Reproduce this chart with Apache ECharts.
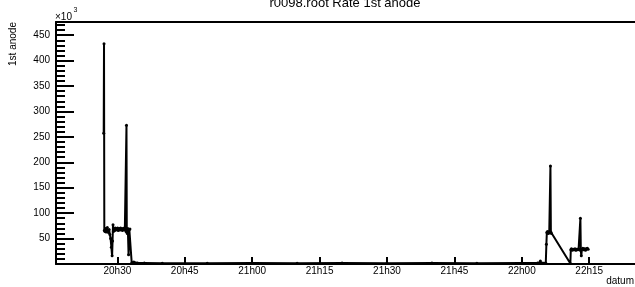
<!DOCTYPE html>
<html>
<head>
<meta charset="utf-8">
<script src="https://cdn.jsdelivr.net/npm/echarts@6/dist/echarts.min.js"></script>
<style>
html,body{margin:0;padding:0;background:#fff;}
#c{width:635px;height:287px;}
</style>
</head>
<body>
<div id="c"></div>
<script>
// time stamps (hh:mm:ss) and rates (x10^3)
const times = [
"20:26:58","20:27:02","20:27:06","20:27:14","20:27:22","20:27:30","20:27:38","20:27:46","20:27:54","20:28:02",
"20:28:10","20:28:20","20:28:30","20:28:40","20:28:50","20:28:56","20:29:02","20:29:08","20:29:16","20:29:24",
"20:29:32","20:29:40","20:29:48","20:29:56","20:30:04","20:30:12","20:30:20","20:30:28","20:30:36","20:30:44",
"20:30:52","20:31:00","20:31:08","20:31:16","20:31:24","20:31:32","20:31:40","20:31:48","20:31:56","20:32:02",
"20:32:06","20:32:12","20:32:20","20:32:30","20:32:40","20:32:48","20:33:12","20:33:40","20:34:30","20:36:00",
"20:40:00","20:50:00","21:00:00","21:10:00","21:20:00","21:30:00","21:40:00","21:50:00","22:00:00","22:03:30",
"22:04:00","22:04:08","22:04:16","22:05:20","22:05:28","22:05:34","22:05:42","22:05:50","22:05:58","22:06:06",
"22:06:14","22:06:22","22:06:28","22:06:36","22:10:48","22:10:54","22:11:02","22:11:14","22:11:26","22:11:38",
"22:11:50","22:12:02","22:12:14","22:12:26","22:12:38","22:12:50","22:13:02","22:13:08","22:13:14","22:13:22",
"22:13:34","22:13:46","22:13:58","22:14:10","22:14:22","22:14:34","22:14:46"
];
const rates = [
257,433,66,64,70,63,69,72,66,62,
68,58,50,33,16,45,77,64,70,66,
71,67,70,68,71,66,69,70,67,71,
68,69,66,70,68,71,67,69,64,273,
63,60,70,18,68,69,2,4,2,2,
1.5,1.5,2,1.5,2,1.5,2,1.5,2,2,
3,6,2,2,39,62,64,60,63,61,
64,193,63,60,1,28,30,27,29,28,
30,27,29,28,30,28,90,26,16,29,
31,28,30,27,29,31,29
];
const xTickTimes = ["20:30","20:45","21:00","21:15","21:30","21:45","22:00","22:15"];
const xRange = ["20:16:21","22:25:11"];
const yMax = 476;
const yInterval = 50;

function toMin(s){const p=s.split(':').map(Number);return p[0]*60+p[1]+(p[2]||0)/60;}
function fmt(v){const h=Math.floor(v/60);const m=Math.round(v-h*60);return h+'h'+(m<10?'0':'')+m;}

const data = times.map((t,i)=>[toMin(t),rates[i]]);
const xTicks = xTickTimes.map(toMin);
const font = 'Liberation Sans, Arial, Helvetica, sans-serif';

const chart = echarts.init(document.getElementById('c'));
chart.setOption({
  animation:false,
  backgroundColor:'#fff',
  grid:{left:56,right:0,top:22,bottom:23,containLabel:false},
  xAxis:[{
    type:'value',min:toMin(xRange[0]),max:toMin(xRange[1]),
    axisLine:{show:true,lineStyle:{color:'#000',width:2}},
    axisTick:{show:true,inside:true,length:7,lineStyle:{color:'#000',width:2},customValues:xTicks},
    axisLabel:{show:true,color:'#000',fontSize:10,fontFamily:font,margin:2,customValues:xTicks,formatter:fmt},
    splitLine:{show:false}
  },{
    type:'value',position:'top',min:toMin(xRange[0]),max:toMin(xRange[1]),
    axisLine:{show:true,lineStyle:{color:'#000',width:2}},
    axisTick:{show:false},axisLabel:{show:false},splitLine:{show:false}
  }],
  yAxis:{
    type:'value',min:0,max:yMax,interval:yInterval,
    axisLine:{show:true,lineStyle:{color:'#000',width:2}},
    axisTick:{show:true,inside:true,length:18,lineStyle:{color:'#000',width:2}},
    minorTick:{show:true,splitNumber:5,length:9,lineStyle:{color:'#000',width:2}},
    axisLabel:{color:'#000',fontSize:10,fontFamily:font,margin:6,showMaxLabel:false,
      formatter:v=>v===0?'':String(v)},
    splitLine:{show:false}
  },
  series:[{
    type:'line',data:data,xAxisIndex:0,
    lineStyle:{color:'#000',width:2},
    itemStyle:{color:'#000'},
    symbol:'circle',symbolSize:3,showSymbol:true
  }],
  graphic:[
    {type:'text',position:[345,3.5],style:{text:'r0098.root Rate 1st anode',fill:'#000',font:'13px '+font,align:'center',verticalAlign:'middle'}},
    {type:'text',position:[13,44],rotation:Math.PI/2,style:{text:'1st anode',fill:'#000',font:'10px '+font,align:'center',verticalAlign:'middle'}},
    {type:'text',position:[55,16.8],style:{text:'×10',fill:'#000',font:'10px '+font,align:'left',verticalAlign:'middle'}},
    {type:'text',position:[73.5,10.5],style:{text:'3',fill:'#000',font:'7px '+font,align:'left',verticalAlign:'middle'}},
    {type:'text',position:[634,281],style:{text:'datum',fill:'#000',font:'10px '+font,align:'right',verticalAlign:'middle'}}
  ]
});
</script>
</body>
</html>
